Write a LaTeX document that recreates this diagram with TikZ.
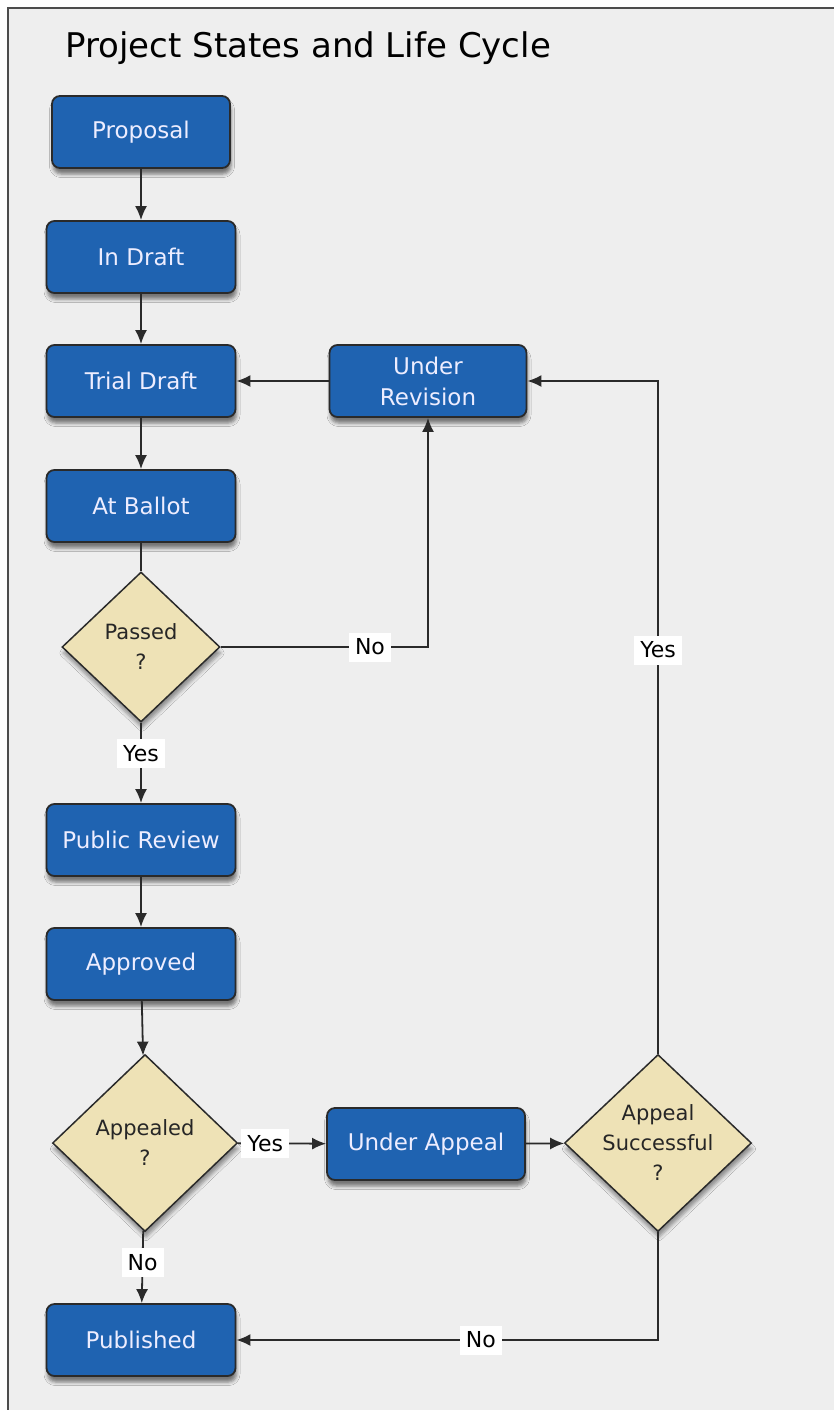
\documentclass[tikz,border=0pt]{standalone}
\usepackage{fontspec}
\setmainfont{DejaVu Sans}
\usetikzlibrary{shapes.geometric,shadows.blur,arrows.meta}
\definecolor{stateblue}{HTML}{1F63B1}
\definecolor{askfill}{HTML}{EEE2B6}
\definecolor{panelgray}{HTML}{EEEEEE}
\definecolor{wiregray}{HTML}{2A2A2A}

\begin{document}
\begin{tikzpicture}[x=1pt,y=-1pt,
	state/.style={rectangle,rounded corners=8pt,draw=wiregray,line width=1.8pt,fill=stateblue,text=white!93!blue,minimum width=189pt,minimum height=72pt,font=\fontsize{23}{31}\selectfont,align=center,blur shadow={shadow xshift=1pt,shadow yshift=-6pt,shadow blur radius=3.5pt,shadow opacity=50}},
	ask/.style={diamond,draw=wiregray,line width=1.5pt,fill=askfill,inner sep=0pt,blur shadow={shadow xshift=1pt,shadow yshift=-6pt,shadow blur radius=3.5pt,shadow opacity=40}},
	asktext/.style={font=\fontsize{21}{30}\selectfont,align=center,text=black!85},
	lbl/.style={fill=white,text=black,font=\fontsize{22}{26}\selectfont,inner xsep=6pt,inner ysep=3pt,minimum height=29pt},
	flow/.style={draw=wiregray,line width=1.8pt,-{Latex[length=14pt,width=12pt]}},
	plain/.style={draw=wiregray,line width=1.8pt}]
	\useasboundingbox (0,0) rectangle (833,1410);
	\fill[white] (0,0) rectangle (833,1410);
	\fill[panelgray] (8,8) rectangle (845,1425);
	\draw[black!70,line width=2pt] (8,1425) -- (8,8) -- (845,8);
	
	\node[anchor=base west,font=\fontsize{34}{40}\selectfont] (title) at (62,58) {Project States and Life Cycle};
	
	\node[state,minimum width=178pt] (prop) at (141,132) {Proposal};
	\node[state] (draft) at (141,257) {In Draft};
	\node[state] (trial) at (141,381) {Trial Draft};
	\node[state,minimum width=197pt] (rev) at (428,381) {Under\\Revision};
	\node[state] (ballot) at (141,506) {At Ballot};
	\node[ask,minimum width=158pt,minimum height=150pt,label={[asktext]center:Passed\\?}] (passed) at (141,647) {};
	\node[state] (pubrev) at (141,840) {Public Review};
	\node[state] (appr) at (141,964) {Approved};
	\node[ask,minimum width=185pt,minimum height=177pt,label={[asktext]center:Appealed\\?}] (appealed) at (145,1143) {};
	\node[state,minimum width=198pt] (uappeal) at (426,1144) {Under Appeal};
	\node[ask,minimum width=187pt,minimum height=177pt,label={[asktext]center:Appeal\\Successful\\?}] (succ) at (658,1143) {};
	\node[state] (pub) at (141,1340) {Published};
	
	\draw[flow] (prop)--(draft);
	\draw[flow] (draft)--(trial);
	\draw[flow] (trial)--(ballot);
	\draw[flow] (rev)--(trial);
	\draw[plain] (ballot)--(passed);
	\draw[flow] (passed.east) -| node[lbl,pos=0.36] (no1) {No} (rev.south);
	\draw[flow] (passed)-- node[lbl,pos=0.38] (yes1) {Yes} (pubrev);
	\draw[flow] (pubrev)--(appr);
	\draw[flow] (appr)--(appealed);
	\draw[flow] (appealed)-- node[lbl,pos=0.31] (yes2) {Yes} (uappeal);
	\draw[flow] (appealed)-- node[lbl,pos=0.44] (no2) {No} (pub);
	\draw[flow] (uappeal)--(succ);
	\draw[flow] (succ.north) |- node[lbl,pos=0.3] (yes3) {Yes} (rev.east);
	\draw[flow] (succ.south) |- node[lbl,pos=0.71] (no3) {No} (pub.east);
\end{tikzpicture}
\end{document}
